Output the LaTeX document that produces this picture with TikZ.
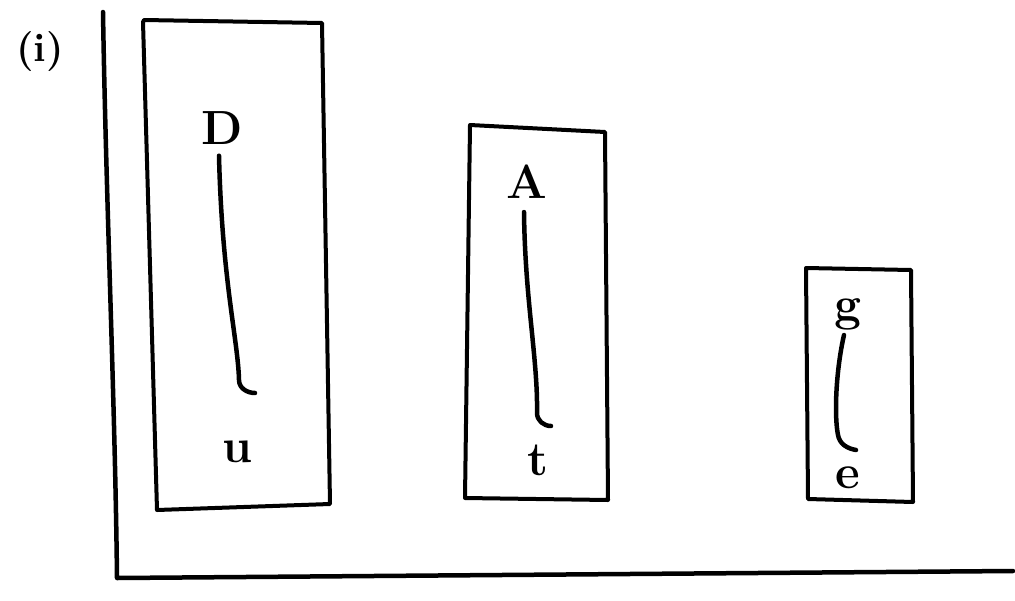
\documentclass[tikz,border=0pt]{standalone}
\begin{document}
\begin{tikzpicture}[x=1pt,y=-1pt,line width=4.5pt,line cap=round,line join=round,
  letter/.style={font=\fontsize{48}{48}\selectfont\bfseries,inner sep=1pt},
  frame/.style={draw=black,line width=4pt}]
\useasboundingbox (0,0) rectangle (1015,600);
% label
\node[font=\fontsize{40}{40}\selectfont\bfseries] (lab) at (40,52) {(i)};
% axes
\coordinate (top) at (103,12);
\coordinate (corner) at (117,578);
\coordinate (right) at (1013,571);
\draw[line width=4.5pt] (top) .. controls (106,200) and (115,400) .. (corner) -- (right);
% boxes
\draw[frame] (144,20) -- (322,23) -- (330,504) -- (157,510) -- (143,22) -- cycle;
\draw[frame] (470,125) -- (605,132) -- (608,500) -- (465,498) -- cycle;
\draw[frame] (806,268) -- (911,270) -- (913,502) -- (808,499) -- cycle;
% letters
\node[letter] (D) at (222,128) {D};
\node[letter] (u) at (237,452) {u};
\node[letter] (A) at (527,182) {A};
\node[letter] (t) at (538,460) {t};
\node[letter] (g) at (848,314) {g};
\node[letter] (e) at (848,478) {e};
% connectors
\coordinate (hD) at (255,393);
\coordinate (hA) at (551,426);
\coordinate (hg) at (856,450);
\draw (D.south) ++(-3,8) .. controls (222,280) and (238,340) .. (239,380) to[out=-90,in=180] (hD);
\draw (A.south) ++(-3,10) .. controls (525,300) and (538,360) .. (537,413) to[out=-90,in=180] (hA);
\draw (g.south) ++(-4,2) .. controls (836,370) and (834,415) .. (838,435) to[out=-80,in=170] (hg);
\end{tikzpicture}
\end{document}
